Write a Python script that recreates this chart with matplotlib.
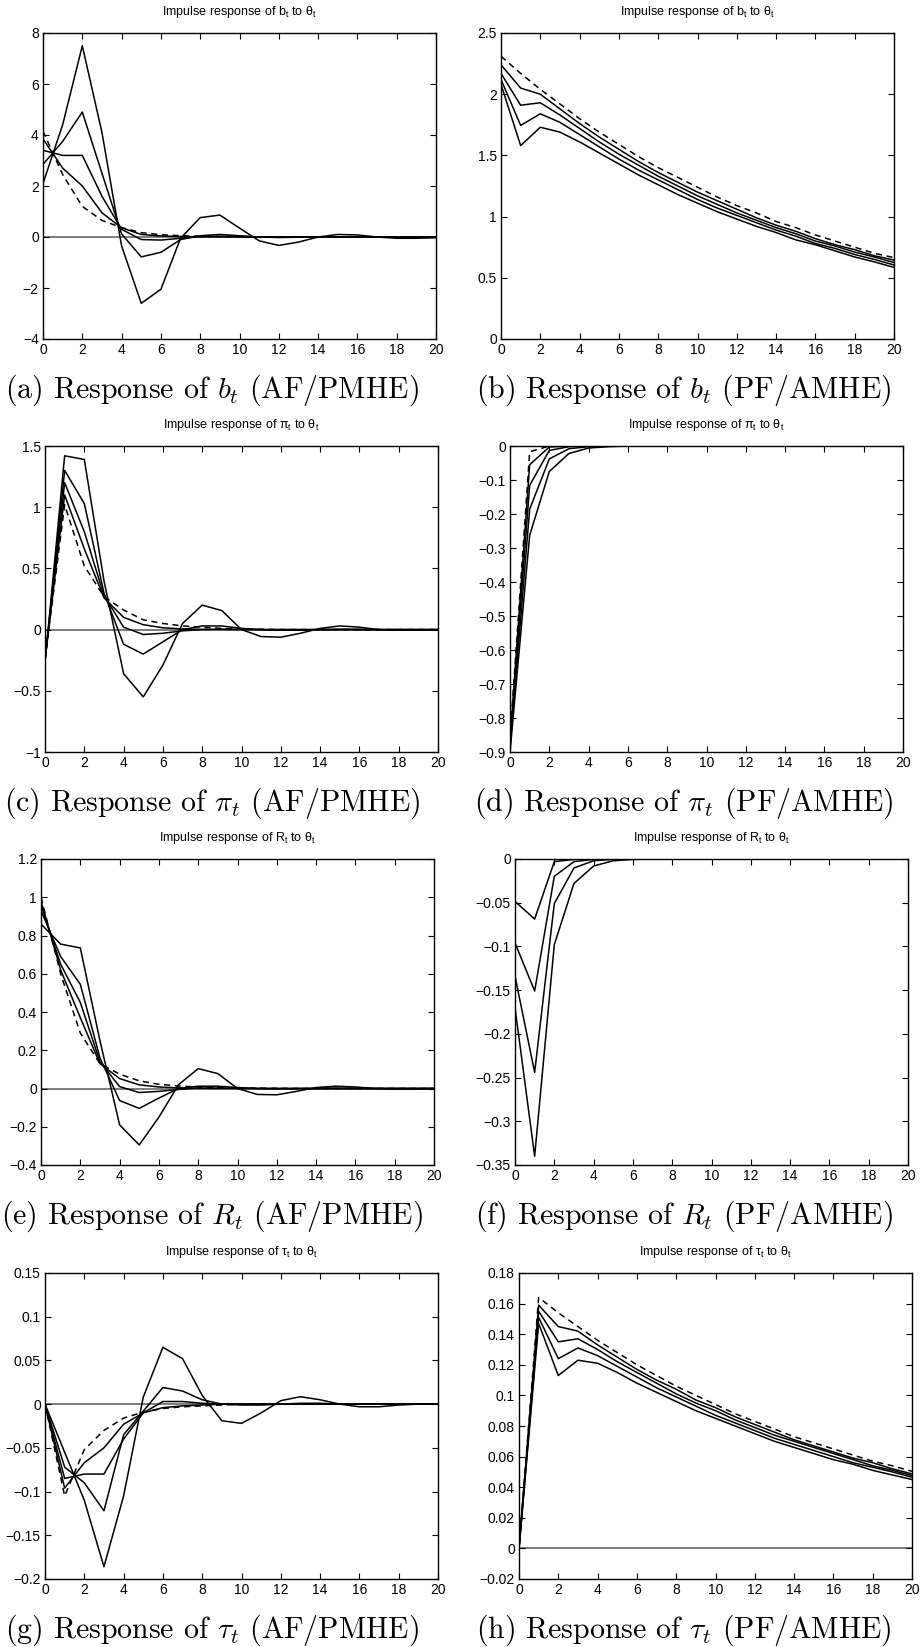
import matplotlib
matplotlib.use("Agg")
import matplotlib.pyplot as plt
from matplotlib.ticker import FuncFormatter

plt.rcParams['font.family'] = ['Liberation Sans', 'DejaVu Sans']
plt.rcParams['mathtext.fontset'] = 'cm'

# horizon
t = [0, 1, 2, 3, 4, 5, 6, 7, 8, 9, 10, 11, 12, 13, 14, 15, 16, 17, 18, 19, 20]
x_ticks = [0, 2, 4, 6, 8, 10, 12, 14, 16, 18, 20]

# (a) b_t, AF/PMHE
a_1 = [2.1, 4.4, 7.5, 4.1, -0.35, -2.6, -2.05, -0.05, 0.76, 0.86, 0.35, -0.15, -0.33, -0.2, 0.0, 0.1, 0.08, 0.0, -0.05, -0.05, -0.03]
a_2 = [2.85, 3.75, 4.9, 2.5, 0.12, -0.78, -0.6, -0.1, 0.05, 0.1, 0.05, 0.0, -0.02, -0.01, 0.0, 0.01, 0.005, 0.0, 0.0, 0.0, 0.0]
a_3 = [3.4, 3.2, 3.2, 1.6, 0.3, -0.1, -0.12, -0.05, 0.02, 0.03, 0.02, 0.0, -0.005, 0.0, 0.0, 0.0, 0.0, 0.0, 0.0, 0.0, 0.0]
a_4 = [3.85, 2.7, 2.0, 0.95, 0.36, 0.1, 0.04, 0.02, 0.01, 0.005, 0.0, 0.0, 0.0, 0.0, 0.0, 0.0, 0.0, 0.0, 0.0, 0.0, 0.0]
a_d = [4.15, 2.45, 1.2, 0.65, 0.37, 0.17, 0.09, 0.05, 0.03, 0.02, 0.01, 0.005, 0.0, 0.0, 0.0, 0.0, 0.0, 0.0, 0.0, 0.0, 0.0]
a_yticks = [-4, -2, 0, 2, 4, 6, 8]

# (b) b_t, PF/AMHE
b_1 = [2.24, 2.05, 2.0, 1.88, 1.76, 1.65, 1.55, 1.45, 1.36, 1.28, 1.2, 1.13, 1.06, 0.99, 0.93, 0.88, 0.82, 0.77, 0.73, 0.68, 0.645]
b_2 = [2.17, 1.91, 1.93, 1.83, 1.72, 1.61, 1.51, 1.42, 1.33, 1.25, 1.17, 1.1, 1.03, 0.97, 0.91, 0.86, 0.8, 0.76, 0.71, 0.67, 0.625]
b_3 = [2.12, 1.745, 1.84, 1.77, 1.67, 1.57, 1.47, 1.38, 1.3, 1.22, 1.14, 1.07, 1.01, 0.95, 0.89, 0.84, 0.78, 0.74, 0.69, 0.65, 0.605]
b_4 = [2.08, 1.58, 1.73, 1.69, 1.61, 1.52, 1.43, 1.34, 1.26, 1.18, 1.11, 1.04, 0.98, 0.92, 0.87, 0.81, 0.77, 0.72, 0.67, 0.63, 0.585]
b_d = [2.31, 2.17, 2.04, 1.92, 1.8, 1.69, 1.59, 1.49, 1.4, 1.32, 1.24, 1.16, 1.09, 1.03, 0.96, 0.91, 0.85, 0.8, 0.75, 0.7, 0.665]
b_yticks = [0, 0.5, 1, 1.5, 2, 2.5]

# (c) pi_t, AF/PMHE
c_1 = [-0.27, 1.42, 1.39, 0.4, -0.36, -0.55, -0.29, 0.05, 0.2, 0.155, 0.0, -0.057, -0.062, -0.03, 0.01, 0.03, 0.02, 0.0, -0.005, -0.005, 0.0]
c_2 = [-0.26, 1.3, 1.03, 0.3, -0.12, -0.2, -0.1, 0.0, 0.03, 0.03, 0.01, 0.0, -0.005, -0.005, 0.0, 0.003, 0.002, 0.0, 0.0, 0.0, 0.0]
c_3 = [-0.25, 1.2, 0.8, 0.28, 0.02, -0.04, -0.03, -0.01, 0.0, 0.003, 0.002, 0.0, 0.0, 0.0, 0.0, 0.0, 0.0, 0.0, 0.0, 0.0, 0.0]
c_4 = [-0.25, 1.1, 0.66, 0.26, 0.1, 0.04, 0.015, 0.005, 0.002, 0.001, 0.0, 0.0, 0.0, 0.0, 0.0, 0.0, 0.0, 0.0, 0.0, 0.0, 0.0]
c_d = [-0.24, 1.02, 0.52, 0.27, 0.16, 0.08, 0.05, 0.03, 0.02, 0.01, 0.005, 0.003, 0.0, 0.0, 0.0, 0.0, 0.0, 0.0, 0.0, 0.0, 0.0]
c_yticks = [-1, -0.5, 0, 0.5, 1, 1.5]

# (d) pi_t, PF/AMHE
d_1 = [-0.87, -0.055, -0.003, 0.0, 0.0, 0.0, 0.0, 0.0, 0.0, 0.0, 0.0, 0.0, 0.0, 0.0, 0.0, 0.0, 0.0, 0.0, 0.0, 0.0, 0.0]
d_2 = [-0.88, -0.116, -0.013, -0.002, 0.0, 0.0, 0.0, 0.0, 0.0, 0.0, 0.0, 0.0, 0.0, 0.0, 0.0, 0.0, 0.0, 0.0, 0.0, 0.0, 0.0]
d_3 = [-0.89, -0.186, -0.038, -0.008, -0.002, 0.0, 0.0, 0.0, 0.0, 0.0, 0.0, 0.0, 0.0, 0.0, 0.0, 0.0, 0.0, 0.0, 0.0, 0.0, 0.0]
d_4 = [-0.9, -0.263, -0.075, -0.022, -0.006, -0.002, 0.0, 0.0, 0.0, 0.0, 0.0, 0.0, 0.0, 0.0, 0.0, 0.0, 0.0, 0.0, 0.0, 0.0, 0.0]
d_d = [-0.86, -0.017, 0.0, 0.0, 0.0, 0.0, 0.0, 0.0, 0.0, 0.0, 0.0, 0.0, 0.0, 0.0, 0.0, 0.0, 0.0, 0.0, 0.0, 0.0, 0.0]
d_yticks = [-0.9, -0.8, -0.7, -0.6, -0.5, -0.4, -0.3, -0.2, -0.1, 0]

# (e) R_t, AF/PMHE
e_1 = [0.86, 0.755, 0.735, 0.25, -0.19, -0.295, -0.15, 0.02, 0.104, 0.078, 0.0, -0.031, -0.033, -0.015, 0.005, 0.012, 0.008, 0.0, -0.003, -0.003, 0.0]
e_2 = [0.93, 0.69, 0.545, 0.16, -0.063, -0.104, -0.05, 0.0, 0.012, 0.012, 0.005, 0.0, -0.002, -0.001, 0.0, 0.001, 0.0, 0.0, 0.0, 0.0, 0.0]
e_3 = [0.96, 0.65, 0.45, 0.14, 0.01, -0.021, -0.015, -0.005, 0.002, 0.002, 0.001, 0.0, 0.0, 0.0, 0.0, 0.0, 0.0, 0.0, 0.0, 0.0, 0.0]
e_4 = [0.98, 0.62, 0.37, 0.13, 0.052, 0.019, 0.008, 0.003, 0.001, 0.0, 0.0, 0.0, 0.0, 0.0, 0.0, 0.0, 0.0, 0.0, 0.0, 0.0, 0.0]
e_d = [1.0, 0.6, 0.29, 0.13, 0.075, 0.04, 0.022, 0.013, 0.008, 0.005, 0.003, 0.002, 0.001, 0.0, 0.0, 0.0, 0.0, 0.0, 0.0, 0.0, 0.0]
e_yticks = [-0.4, -0.2, 0, 0.2, 0.4, 0.6, 0.8, 1, 1.2]

# (f) R_t, PF/AMHE
f_1 = [-0.0485, -0.0687, -0.003, -0.0005, 0.0, 0.0, 0.0, 0.0, 0.0, 0.0, 0.0, 0.0, 0.0, 0.0, 0.0, 0.0, 0.0, 0.0, 0.0, 0.0, 0.0]
f_2 = [-0.096, -0.151, -0.0198, -0.003, -0.0005, 0.0, 0.0, 0.0, 0.0, 0.0, 0.0, 0.0, 0.0, 0.0, 0.0, 0.0, 0.0, 0.0, 0.0, 0.0, 0.0]
f_3 = [-0.134, -0.244, -0.051, -0.0103, -0.002, -0.0004, 0.0, 0.0, 0.0, 0.0, 0.0, 0.0, 0.0, 0.0, 0.0, 0.0, 0.0, 0.0, 0.0, 0.0, 0.0]
f_4 = [-0.17, -0.34, -0.098, -0.028, -0.008, -0.002, -0.0005, 0.0, 0.0, 0.0, 0.0, 0.0, 0.0, 0.0, 0.0, 0.0, 0.0, 0.0, 0.0, 0.0, 0.0]
f_d = [0.0, 0.0, 0.0, 0.0, 0.0, 0.0, 0.0, 0.0, 0.0, 0.0, 0.0, 0.0, 0.0, 0.0, 0.0, 0.0, 0.0, 0.0, 0.0, 0.0, 0.0]
f_yticks = [-0.35, -0.3, -0.25, -0.2, -0.15, -0.1, -0.05, 0]

# (g) tau_t, AF/PMHE
g_1 = [0.0, -0.055, -0.11, -0.186, -0.105, 0.008, 0.065, 0.052, 0.01, -0.019, -0.022, -0.01, 0.004, 0.0085, 0.005, 0.0, -0.003, -0.003, -0.001, 0.0, 0.0]
g_2 = [0.0, -0.072, -0.09, -0.122, -0.035, -0.008, 0.019, 0.015, 0.005, 0.0, -0.001, -0.001, 0.0, 0.001, 0.001, 0.0, 0.0, 0.0, 0.0, 0.0, 0.0]
g_3 = [0.0, -0.085, -0.08, -0.08, -0.04, -0.01, 0.003, 0.003, 0.001, 0.0, 0.0, 0.0, 0.0, 0.0, 0.0, 0.0, 0.0, 0.0, 0.0, 0.0, 0.0]
g_4 = [0.0, -0.096, -0.067, -0.05, -0.023, -0.01, -0.004, -0.002, -0.001, 0.0, 0.0, 0.0, 0.0, 0.0, 0.0, 0.0, 0.0, 0.0, 0.0, 0.0, 0.0]
g_d = [0.0, -0.105, -0.052, -0.03, -0.016, -0.009, -0.005, -0.003, -0.002, -0.001, 0.0, 0.0, 0.0, 0.0, 0.0, 0.0, 0.0, 0.0, 0.0, 0.0, 0.0]
g_yticks = [-0.2, -0.15, -0.1, -0.05, 0, 0.05, 0.1, 0.15]

# (h) tau_t, PF/AMHE
h_1 = [0.0, 0.159, 0.145, 0.142, 0.133, 0.125, 0.117, 0.11, 0.104, 0.097, 0.092, 0.086, 0.081, 0.076, 0.071, 0.067, 0.063, 0.059, 0.056, 0.052, 0.0487]
h_2 = [0.0, 0.155, 0.135, 0.137, 0.13, 0.122, 0.115, 0.108, 0.101, 0.095, 0.09, 0.084, 0.079, 0.074, 0.07, 0.066, 0.062, 0.058, 0.054, 0.051, 0.0476]
h_3 = [0.0, 0.151, 0.124, 0.131, 0.126, 0.119, 0.112, 0.105, 0.099, 0.093, 0.087, 0.082, 0.077, 0.072, 0.068, 0.064, 0.06, 0.056, 0.053, 0.05, 0.0465]
h_4 = [0.0, 0.147, 0.113, 0.123, 0.121, 0.115, 0.108, 0.102, 0.096, 0.09, 0.085, 0.08, 0.075, 0.07, 0.066, 0.062, 0.058, 0.055, 0.051, 0.048, 0.045]
h_d = [0.0, 0.164, 0.154, 0.145, 0.136, 0.128, 0.12, 0.113, 0.106, 0.1, 0.094, 0.088, 0.083, 0.078, 0.073, 0.069, 0.065, 0.061, 0.057, 0.054, 0.0504]
h_yticks = [-0.02, 0, 0.02, 0.04, 0.06, 0.08, 0.1, 0.12, 0.14, 0.16, 0.18]

titles = ["b", "b", r"\pi", r"\pi", "R", "R", r"\tau", r"\tau"]
captions = [
    r"(a) Response of $b_t$ (AF/PMHE)", r"(b) Response of $b_t$ (PF/AMHE)",
    r"(c) Response of $\pi_t$ (AF/PMHE)", r"(d) Response of $\pi_t$ (PF/AMHE)",
    r"(e) Response of $R_t$ (AF/PMHE)", r"(f) Response of $R_t$ (PF/AMHE)",
    r"(g) Response of $\tau_t$ (AF/PMHE)", r"(h) Response of $\tau_t$ (PF/AMHE)",
]
panels = [
    ([a_1, a_2, a_3, a_4], a_d, a_yticks, True),
    ([b_1, b_2, b_3, b_4], b_d, b_yticks, False),
    ([c_1, c_2, c_3, c_4], c_d, c_yticks, True),
    ([d_1, d_2, d_3, d_4], d_d, d_yticks, False),
    ([e_1, e_2, e_3, e_4], e_d, e_yticks, True),
    ([f_1, f_2, f_3, f_4], f_d, f_yticks, False),
    ([g_1, g_2, g_3, g_4], g_d, g_yticks, True),
    ([h_1, h_2, h_3, h_4], h_d, h_yticks, True),
]

W, H = 922, 1647
fig = plt.figure(figsize=(W / 100, H / 100), dpi=100)

# pixel layout (left edge of each axes, top of each row)
lefts = [43, 501, 45, 510, 41, 515, 45, 519]
tops = [33, 33, 446, 446, 859, 859, 1273, 1273]
ax_w, ax_h = 393, 306
cap_x = [212, 684]


def fmt(v, pos):
    s = '%g' % (round(v, 6) + 0.0)
    return s.replace('-', '\u2212')


for i, (solids, dashed, yt, zero_line) in enumerate(panels):
    ax = fig.add_axes([lefts[i] / W, 1 - (tops[i] + ax_h) / H, ax_w / W, ax_h / H])
    if zero_line:
        ax.axhline(0, color='0.35', lw=1.1, zorder=1)
    for s in solids:
        ax.plot(t, s, color='black', lw=1.1, zorder=3)
    ax.plot(t, dashed, color='black', lw=1.1, linestyle=(0, (4, 3)), zorder=3)
    ax.set_xlim(0, 20)
    ax.set_ylim(yt[0], yt[-1])
    ax.set_xticks(x_ticks)
    ax.set_yticks(yt)
    ax.xaxis.set_major_formatter(FuncFormatter(fmt))
    ax.yaxis.set_major_formatter(FuncFormatter(fmt))
    ax.tick_params(direction='in', top=True, right=True, length=4, width=0.8,
                   labelsize=10, pad=3)
    for sp in ax.spines.values():
        sp.set_linewidth(1.0)
    ax.text(0.5, 1 + 21 / ax_h,
            r'Impulse response of $\mathregular{%s_t}$ to $\mathregular{\theta_t}$' % titles[i],
            transform=ax.transAxes, ha='center', va='center', fontsize=9)
    fig.text(cap_x[i % 2] / W, 1 - (tops[i] + ax_h + 51) / H, captions[i],
             ha='center', va='center', fontsize=21.5, family='cmr10')

fig.savefig('out.png', dpi=100)
